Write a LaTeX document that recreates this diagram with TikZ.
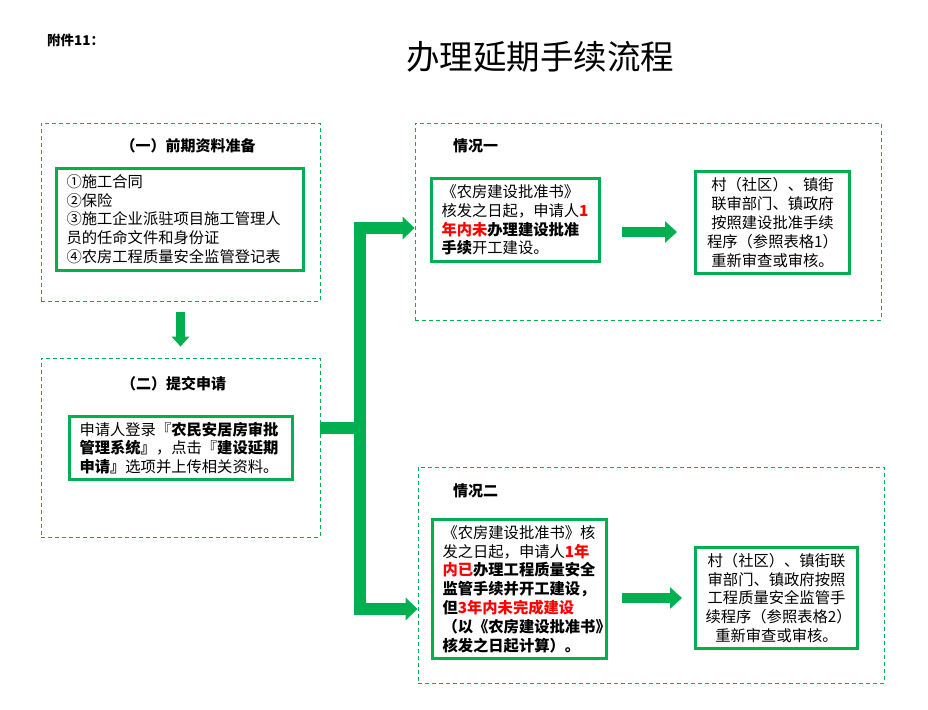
\documentclass[tikz,border=0pt]{standalone}
\usepackage{fontspec}
\setmainfont{Noto Sans CJK SC}
\usepackage{xcolor}
\usetikzlibrary{arrows.meta}
\definecolor{okgreen}{HTML}{00B050}
\newcommand{\hl}[1]{\textcolor{red}{\bfseries #1}}

\begin{document}
\begin{tikzpicture}[x=1pt,y=-1pt,
    dashbox/.style={draw=okgreen,line width=0.8pt,dash pattern=on 4pt off 3pt,inner sep=0pt},
    greenbox/.style={draw=okgreen,line width=3pt,inner xsep=10pt,inner ysep=0pt,
        font=\fontsize{15.3}{18.8}\selectfont},
    boxtitle/.style={inner sep=0pt,font=\bfseries\fontsize{15}{18}\selectfont},
    flow/.style={draw=okgreen,line width=12pt},
    flowtip/.style={-{Triangle[length=12pt,width=22pt]}},
    caseflow/.style={draw=okgreen,line width=10pt,-{Triangle[length=12pt,width=21pt]}}]
\useasboundingbox (0,0) rectangle (928,709);

% heading
\node[anchor=west,inner sep=0pt,font=\bfseries\fontsize{13.5}{16}\selectfont] (annex) at (47,40) {附件11：};
\node[font=\fontsize{33.5}{40}\selectfont] (title) at (540,57) {办理延期手续流程};

% left column
\node[dashbox,minimum width=279pt,minimum height=178pt] (p1) at (180.5,212) {};
\node[boxtitle] (t1) at (188,146) {（一）前期资料准备};
\node[greenbox,text width=227pt,minimum height=102pt,align=left] (docs) at (180,219)
    {①施工合同\\②保险\\③施工企业派驻项目施工管理人\\员的任命文件和身份证\\④农房工程质量安全监管登记表};

\node[dashbox,minimum width=279pt,minimum height=179pt] (p2) at (180.5,447.5) {};
\node[boxtitle] (t2) at (173.5,384) {（二）提交申请};
\node[greenbox,text width=203pt,minimum height=63pt,align=left] (apply) at (181,448)
    {申请人登录『\textbf{农民安居房审批}\\\textbf{管理系统』}，点击『\textbf{建设延期}\\\textbf{申请』}选项并上传相关资料。};

% case one
\node[dashbox,minimum width=466pt,minimum height=197pt] (c1) at (648,221.5) {};
\node[boxtitle,anchor=west] (s1) at (453,146) {情况一};
\node[greenbox,text width=148pt,minimum height=83pt,align=left] (c1a) at (515.5,220)
    {《农房建设批准书》\\核发之日起，申请人\hl{1}\\\hl{年内未}\textbf{办理建设批准}\\\textbf{手续}开工建设。};
\node[greenbox,text width=134pt,minimum height=102pt,align=center] (c1b) at (772.5,222.5)
    {村（社区）、镇街\\联审部门、镇政府\\按照建设批准手续\\程序（参照表格1）\\重新审查或审核。};

% case two
\node[dashbox,minimum width=466pt,minimum height=216pt] (c2) at (651,575) {};
\node[boxtitle,anchor=west] (s2) at (453,491) {情况二};
\node[greenbox,text width=154pt,minimum height=139pt,align=left] (c2a) at (519.5,589)
    {《农房建设批准书》核\\发之日起，申请人\hl{1年}\\\hl{内已}\textbf{办理工程质量安全}\\\textbf{监管手续并开工建设，}\\\textbf{但}\hl{3年内未完成建设}\\\textbf{（以《农房建设批准书》}\\\textbf{核发之日起计算）。}};
\node[greenbox,text width=142pt,minimum height=101pt,align=center] (c2b) at (776.5,598)
    {村（社区）、镇街联\\审部门、镇政府按照\\工程质量安全监管手\\续程序（参照表格2）\\重新审查或审核。};

% arrows
\draw[okgreen,line width=9pt,-{Triangle[length=10pt,width=17pt]},shorten <=11pt,shorten >=11pt] (p1.south) -- (p2.north);

\coordinate (split) at (360,428);
\draw[flow] (p2.east |- split) -- (split);
\draw[flow,flowtip] (split) |- ([yshift=-6.5pt]c1.west);
\draw[flow,flowtip] (split) |- ([yshift=-34pt]c2.west);

\draw[caseflow,shorten <=21pt,shorten >=17pt] ([yshift=-12pt]c1a.east) -- ([yshift=-12pt]c1a.east -| c1b.west);
\draw[caseflow,shorten <=14pt,shorten >=12pt] ([yshift=-9pt]c2a.east) -- ([yshift=-9pt]c2a.east -| c2b.west);
\end{tikzpicture}
\end{document}
